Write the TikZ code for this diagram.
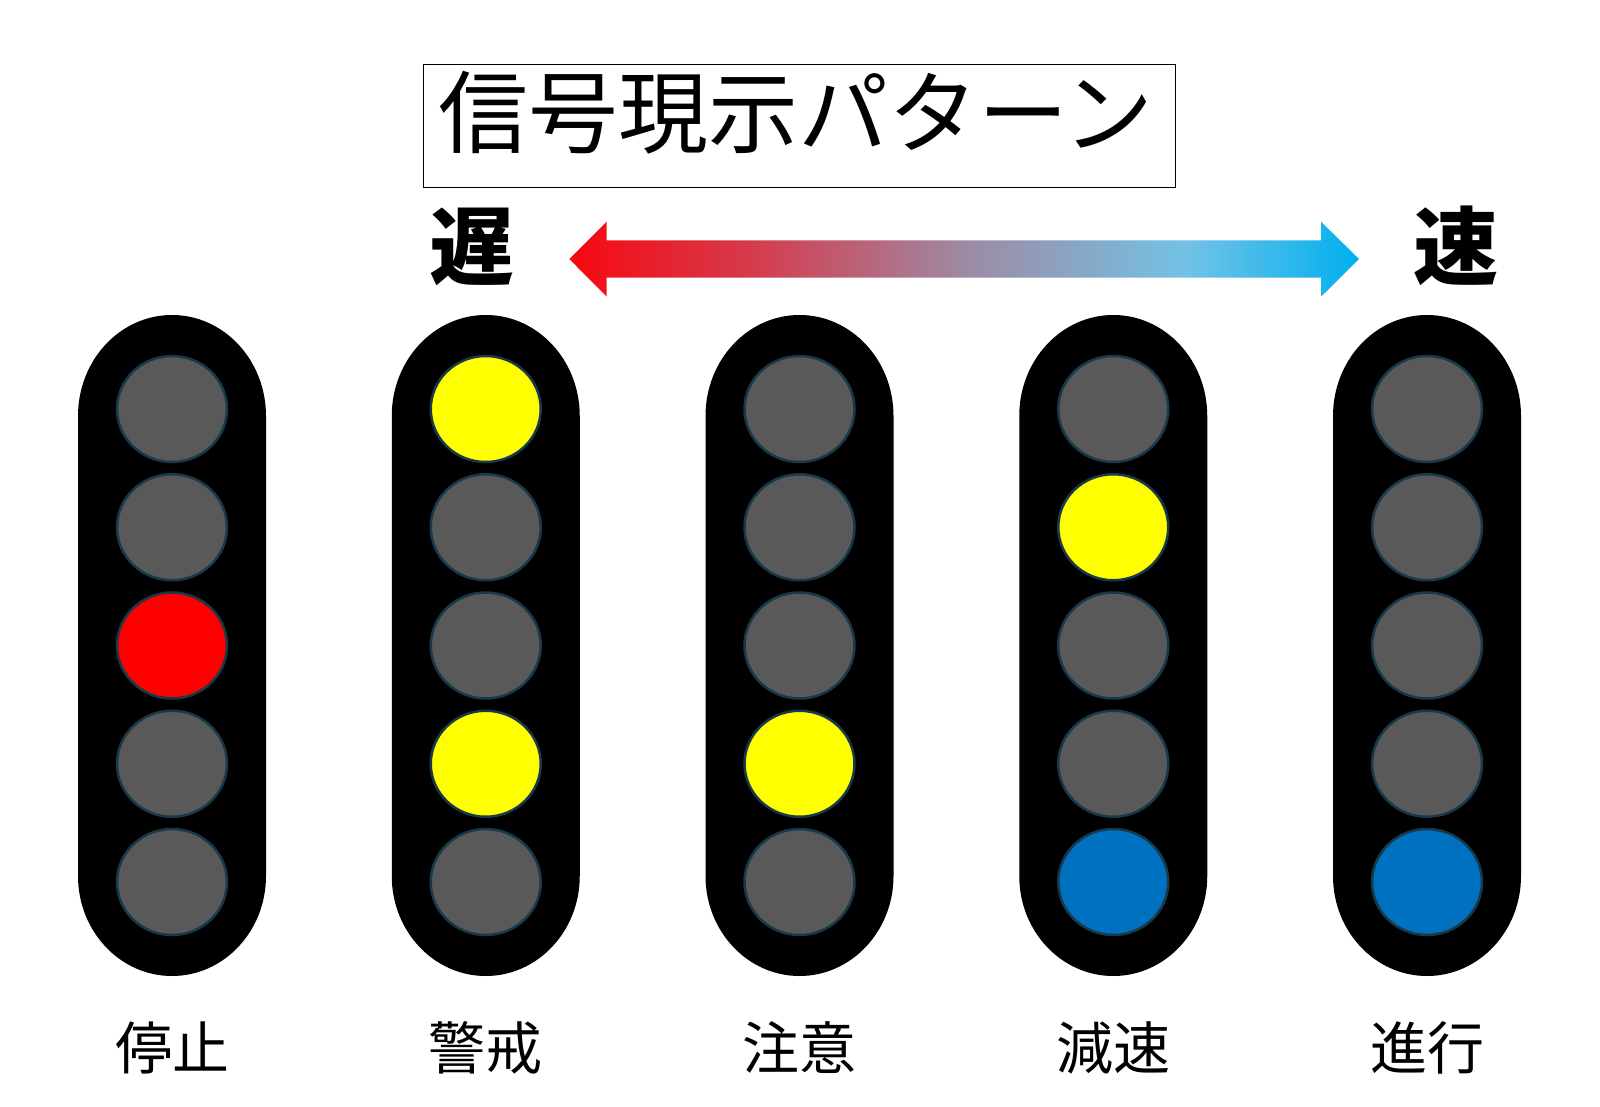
\documentclass[tikz,border=0pt]{standalone}
\usepackage{fontspec}
\setmainfont{Noto Sans CJK JP}
\usetikzlibrary{shapes.geometric}
\definecolor{lampoff}{HTML}{595959}
\definecolor{lampedge}{HTML}{17394B}
\definecolor{lred}{HTML}{FF0000}
\definecolor{lyellow}{HTML}{FFFF00}
\definecolor{lblue}{HTML}{0070C0}
\pgfdeclarehorizontalshading{arrowgrad}{100bp}{%
  rgb(0bp)=(0.97,0.03,0.06);
  rgb(25bp)=(0.97,0.03,0.06);
  rgb(37bp)=(0.83,0.24,0.31);
  rgb(50bp)=(0.62,0.54,0.64);
  rgb(64bp)=(0.45,0.76,0.90);
  rgb(75bp)=(0.0,0.69,0.94);
  rgb(100bp)=(0.0,0.69,0.94)}
\tikzset{
  lamp/.style={ellipse, draw=lampedge, line width=2.5pt, minimum width=110pt,
    minimum height=106pt, inner sep=0pt, fill=#1},
  housing/.style={fill=black},
  caption/.style={anchor=base, inner sep=0pt, font=\fontsize{57}{60}\selectfont},
  speedword/.style={anchor=base, inner sep=0pt, font=\bfseries\fontsize{85}{90}\selectfont},
  titlebox/.style={draw, line width=1.2pt, minimum width=752pt, minimum height=123pt, inner sep=0pt},
  titletext/.style={anchor=base, inner sep=0pt, font=\fontsize{90}{96}\selectfont}
}
\begin{document}
\begin{tikzpicture}[x=1pt,y=-1pt]
\useasboundingbox[fill=white] (0,0) rectangle (1600,1107);
% title
\node[titlebox] (tbox) at (799.7,126) {};
\node[titletext] (title) at (796,147) {信号現示パターン};
% slow / fast
\node[speedword] (slow) at (471.7,278) {遅};
\node[speedword] (fast) at (1455.5,278) {速};
% gradient double arrow
\shade[shading=arrowgrad] (569.3,259) -- (606.7,221.7) -- (606.7,240.3) -- (1321,240.3)
  -- (1321,221.7) -- (1359,259) -- (1321,296.7) -- (1321,277.7) -- (606.7,277.7)
  -- (606.7,296.7) -- cycle;
% signals
\foreach \i/\cx/\name/\a/\b/\c/\d/\e in {
  1/172/停止/lampoff/lampoff/lred/lampoff/lampoff,
  2/485.75/警戒/lyellow/lampoff/lampoff/lyellow/lampoff,
  3/799.5/注意/lampoff/lampoff/lampoff/lyellow/lampoff,
  4/1113.25/減速/lampoff/lyellow/lampoff/lampoff/lblue,
  5/1427/進行/lampoff/lampoff/lampoff/lampoff/lblue}{
  \fill[housing] (\cx-94,416) -- (\cx-94,876)
    arc[start angle=180, end angle=0, x radius=94, y radius=100]
    -- (\cx+94,416)
    arc[start angle=0, end angle=-180, x radius=94, y radius=101] -- cycle;
  \node[lamp=\a] (s\i-1) at (\cx,409) {};
  \node[lamp=\b] (s\i-2) at (\cx,527.25) {};
  \node[lamp=\c] (s\i-3) at (\cx,645.5) {};
  \node[lamp=\d] (s\i-4) at (\cx,763.75) {};
  \node[lamp=\e] (s\i-5) at (\cx,882) {};
  \node[caption] (lab\i) at (\cx,1069) {\name};
}
\end{tikzpicture}
\end{document}
